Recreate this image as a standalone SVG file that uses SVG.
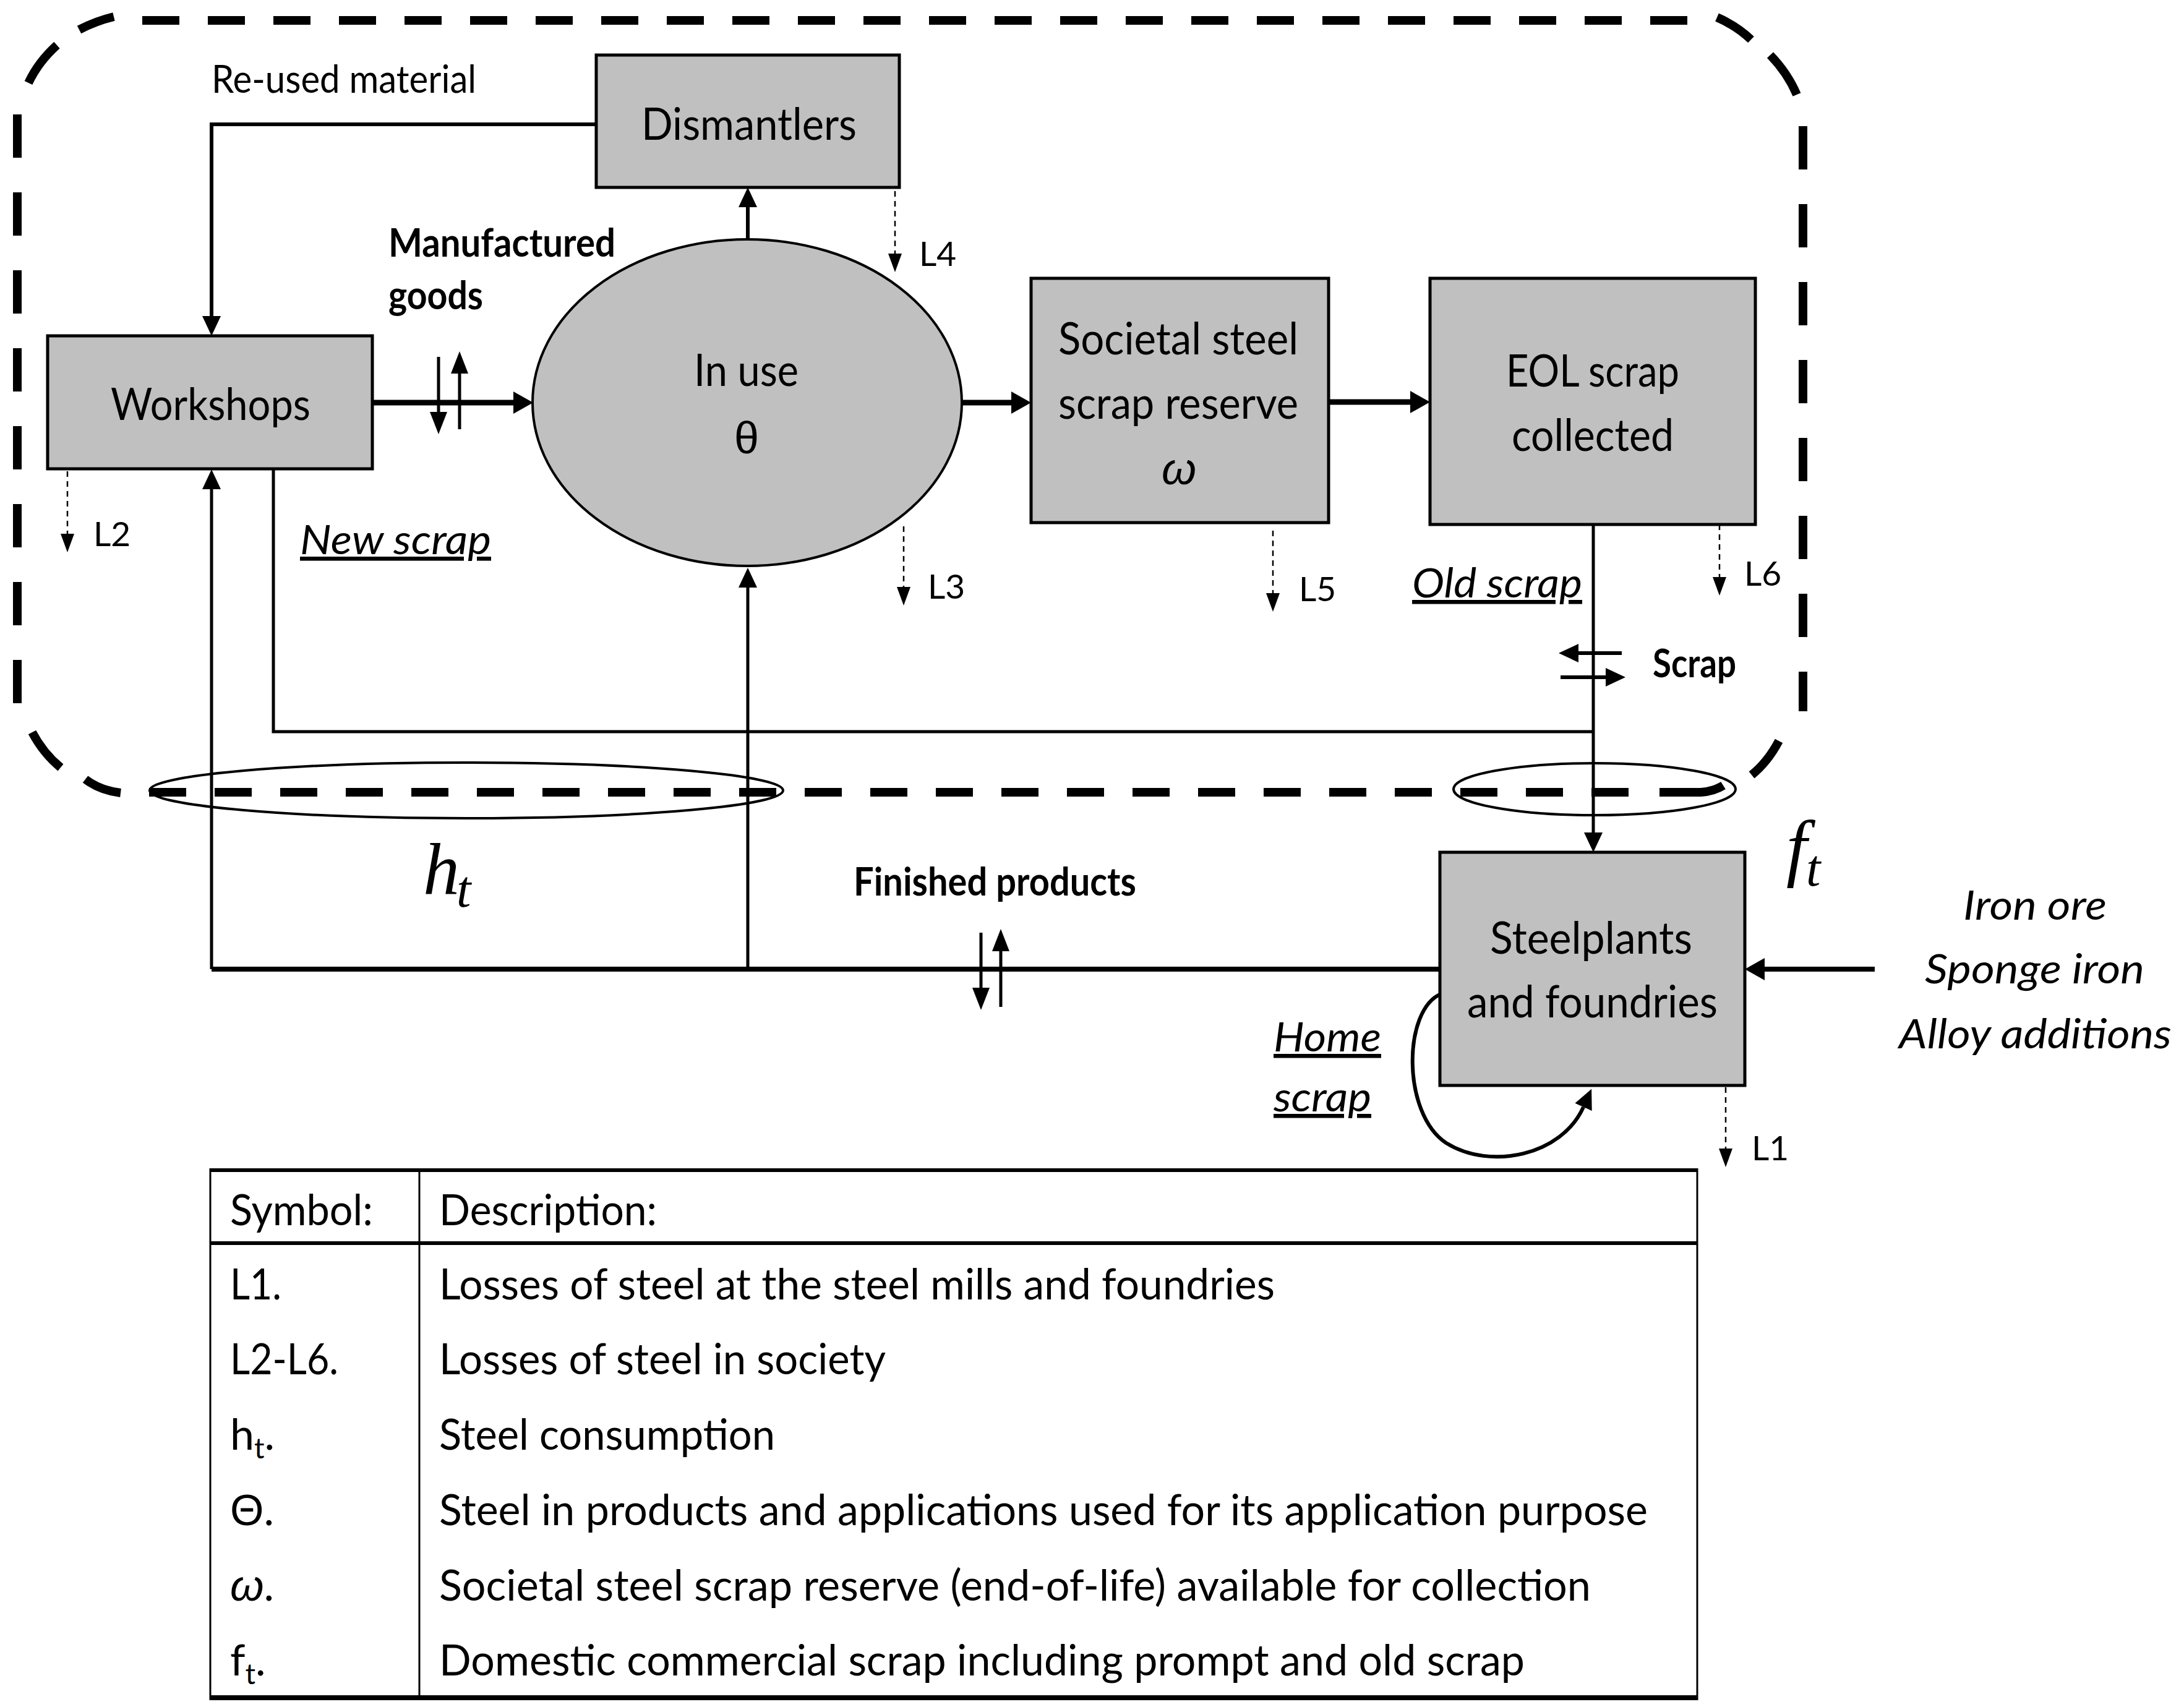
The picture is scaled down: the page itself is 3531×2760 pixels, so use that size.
<svg xmlns="http://www.w3.org/2000/svg" width="3531" height="2760" viewBox="0 0 3531 2760">
<style>
  text { font-family: "Lato", "Liberation Sans", sans-serif; fill: #000; }
  .nt { font-size: 72px; }
  .lb { font-size: 62px; }
  .bd { font-size: 64px; font-weight: bold; }
  .it { font-size: 66px; font-style: italic; }
  .ul { text-decoration: underline; }
  .ll { font-size: 55px; }
  .tb { font-size: 70px; }
  .math { font-family: "Liberation Serif", "DejaVu Serif", serif; font-style: italic; }
  .greek { font-family: "Liberation Sans", "DejaVu Sans", sans-serif; }
  .box { fill: #c0c0c0; stroke: #000; stroke-width: 5; }
  .ln { fill: none; stroke: #000; }
  .loss { fill: none; stroke: #000; stroke-width: 2.5; stroke-dasharray: 9 7; }
  .brd { fill: none; stroke: #000; stroke-width: 14; }
  .tl { stroke: #000; fill: none; }
</style>
<defs>
  <marker id="ah9" markerUnits="userSpaceOnUse" viewBox="0 -18 32 36" refX="0" refY="0" markerWidth="32" markerHeight="36" orient="auto"><path d="M0,-18 L32,0 L0,18 Z" fill="#000"/></marker>
  <marker id="ah6" markerUnits="userSpaceOnUse" viewBox="0 -15 32 30" refX="0" refY="0" markerWidth="32" markerHeight="30" orient="auto"><path d="M0,-15 L32,0 L0,15 Z" fill="#000"/></marker>
  <marker id="ah5" markerUnits="userSpaceOnUse" viewBox="0 -14 36 28" refX="0" refY="0" markerWidth="36" markerHeight="28" orient="auto"><path d="M0,-14 L36,0 L0,14 Z" fill="#000"/></marker>
  <marker id="ahl" markerUnits="userSpaceOnUse" viewBox="0 -11 30 22" refX="0" refY="0" markerWidth="30" markerHeight="22" orient="auto"><path d="M0,-11 L30,0 L0,11 Z" fill="#000"/></marker>
</defs>
<rect x="0" y="0" width="3531" height="2760" fill="#fff"/>

<!-- system boundary (dashed rounded rectangle) -->
<g id="boundary">
  <path class="brd" d="M230,33 H2728" stroke-dasharray="60 46"/>
  <path class="brd" d="M241,1281 H2660" stroke-dasharray="60 46"/>
  <path class="brd" d="M28,185 V1140" stroke-dasharray="70 56"/>
  <path class="brd" d="M2915,204 V1150" stroke-dasharray="70 56"/>
  <path class="brd" d="M46,134 Q62,100 92,73"/>
  <path class="brd" d="M128,48 Q155,34 184,27"/>
  <path class="brd" d="M2776,28 Q2808,42 2831,64"/>
  <path class="brd" d="M2862,89 Q2890,118 2905,153"/>
  <path class="brd" d="M2876,1198 Q2858,1232 2832,1253"/>
  <path class="brd" d="M2683,1281 H2750 Q2772,1279 2786,1270"/>
  <path class="brd" d="M52,1184 Q70,1218 98,1241"/>
  <path class="brd" d="M138,1260 Q162,1278 195,1282"/>
</g>

<!-- ht and ft ellipses -->
<g id="ht-ellipse"><ellipse cx="754" cy="1278" rx="512" ry="45" fill="none" stroke="#000" stroke-width="4"/></g>
<g id="ft-ellipse"><ellipse cx="2578" cy="1276" rx="228" ry="42" fill="none" stroke="#000" stroke-width="4"/></g>

<!-- connectors -->
<g id="connectors">
  <path class="ln" stroke-width="6" d="M964,201 H342 V511" marker-end="url(#ah6)"/>
  <path class="ln" stroke-width="6" d="M1209,387 V335" marker-end="url(#ah6)"/>
  <path class="ln" stroke-width="9" d="M602,651 H830" marker-end="url(#ah9)"/>
  <path class="ln" stroke-width="5" d="M709,577 V666" marker-end="url(#ah5)"/>
  <path class="ln" stroke-width="5" d="M743,694 V604" marker-end="url(#ah5)"/>
  <path class="ln" stroke-width="9" d="M1556,651 H1635" marker-end="url(#ah9)"/>
  <path class="ln" stroke-width="9" d="M2148,650 H2280" marker-end="url(#ah9)"/>
  <path class="ln" stroke-width="5" d="M442,758 V1183 H2576"/>
  <path class="ln" stroke-width="5" d="M2576,848 V1346" marker-end="url(#ah6)"/>
  <path class="ln" stroke-width="6" d="M2622,1056 H2552" marker-end="url(#ah6)"/>
  <path class="ln" stroke-width="6" d="M2523,1095 H2596" marker-end="url(#ah6)"/>
  <path class="ln" stroke-width="8" d="M2328,1567 H342"/>
  <path class="ln" stroke-width="5" d="M342,1567 V791" marker-end="url(#ah6)"/>
  <path class="ln" stroke-width="5" d="M1209,1567 V950" marker-end="url(#ah6)"/>
  <path class="ln" stroke-width="5" d="M1586,1508 V1597" marker-end="url(#ah5)"/>
  <path class="ln" stroke-width="5" d="M1618,1628 V1538" marker-end="url(#ah5)"/>
  <path class="ln" stroke-width="8" d="M3031,1567 H2853" marker-end="url(#ah9)"/>
  <path class="ln" stroke-width="6" d="M2330,1607 C2268,1632 2266,1800 2338,1848 C2410,1893 2525,1868 2560,1790" marker-end="url(#ah6)"/>
  <path class="loss" d="M109,762 V863" marker-end="url(#ahl)"/>
  <path class="loss" d="M1461,851 V949" marker-end="url(#ahl)"/>
  <path class="loss" d="M1447,309 V410" marker-end="url(#ahl)"/>
  <path class="loss" d="M2058,858 V959" marker-end="url(#ahl)"/>
  <path class="loss" d="M2780,832 V933" marker-end="url(#ahl)"/>
  <path class="loss" d="M2790,1758 V1857" marker-end="url(#ahl)"/>
</g>

<!-- nodes -->
<g id="dismantlers">
  <rect class="box" x="964" y="89" width="490" height="214"/>
  <text class="nt" x="1037" y="226" textLength="348" lengthAdjust="spacingAndGlyphs">Dismantlers</text>
</g>
<g id="workshops">
  <rect class="box" x="77" y="543" width="525" height="215"/>
  <text class="nt" x="179" y="679" textLength="323" lengthAdjust="spacingAndGlyphs">Workshops</text>
</g>
<g id="in-use">
  <ellipse cx="1208" cy="651" rx="347" ry="264" fill="#c0c0c0" stroke="#000" stroke-width="4"/>
  <text class="nt" x="1122" y="624" textLength="169" lengthAdjust="spacingAndGlyphs">In use</text>
  <text class="nt greek" x="1207" y="733" text-anchor="middle">θ</text>
</g>
<g id="societal">
  <rect class="box" x="1667" y="450" width="481" height="395"/>
  <text class="nt" x="1711" y="573" textLength="388" lengthAdjust="spacingAndGlyphs">Societal steel</text>
  <text class="nt" x="1711" y="677" textLength="388" lengthAdjust="spacingAndGlyphs">scrap reserve</text>
  <text class="nt greek" x="1906" y="783" text-anchor="middle" font-style="italic">ω</text>
</g>
<g id="eol">
  <rect class="box" x="2312" y="450" width="526" height="398"/>
  <text class="nt" x="2435" y="625" textLength="280" lengthAdjust="spacingAndGlyphs">EOL scrap</text>
  <text class="nt" x="2444" y="729" textLength="262" lengthAdjust="spacingAndGlyphs">collected</text>
</g>
<g id="steelplants">
  <rect class="box" x="2328" y="1378" width="493" height="377"/>
  <text class="nt" x="2409" y="1542" textLength="327" lengthAdjust="spacingAndGlyphs">Steelplants</text>
  <text class="nt" x="2372" y="1645" textLength="405" lengthAdjust="spacingAndGlyphs">and foundries</text>
</g>

<!-- labels -->
<g id="labels">
  <text class="lb" x="342" y="150" textLength="428" lengthAdjust="spacingAndGlyphs">Re-used material</text>
  <text class="bd" x="628" y="415" textLength="367" lengthAdjust="spacingAndGlyphs">Manufactured</text>
  <text class="bd" x="628" y="500" textLength="153" lengthAdjust="spacingAndGlyphs">goods</text>
  <text class="it ul" x="485" y="896" textLength="309" lengthAdjust="spacingAndGlyphs">New scrap</text>
  <text class="it ul" x="2283" y="966" textLength="275" lengthAdjust="spacingAndGlyphs">Old scrap</text>
  <text class="bd" x="2672" y="1095" textLength="135" lengthAdjust="spacingAndGlyphs">Scrap</text>
  <text class="bd" x="1380" y="1448" textLength="457" lengthAdjust="spacingAndGlyphs">Finished products</text>
  <text class="it ul" x="2059" y="1700" textLength="174" lengthAdjust="spacingAndGlyphs">Home</text>
  <text class="it ul" x="2059" y="1797" textLength="158" lengthAdjust="spacingAndGlyphs">scrap</text>
  <text class="it" font-size="70" x="3174" y="1487" textLength="232" lengthAdjust="spacingAndGlyphs">Iron ore</text>
  <text class="it" font-size="70" x="3112" y="1590" textLength="355" lengthAdjust="spacingAndGlyphs">Sponge iron</text>
  <text class="it" font-size="70" x="3070" y="1695" textLength="441" lengthAdjust="spacingAndGlyphs">Alloy additions</text>
  <text class="ll" x="151" y="883">L2</text>
  <text class="ll" x="1500" y="968">L3</text>
  <text class="ll" x="1486" y="430">L4</text>
  <text class="ll" x="2100" y="972">L5</text>
  <text class="ll" x="2820" y="947">L6</text>
  <text class="ll" x="2832" y="1876">L1</text>
  <text class="math" font-size="118" x="684" y="1445">h</text>
  <text class="math" font-size="84" x="738" y="1466">t</text>
  <text class="math" font-size="120" x="2888" y="1410">f</text>
  <text class="math" font-size="84" x="2920" y="1432">t</text>
</g>

<!-- legend table -->
<g id="legend">
  <line class="tl" x1="340" y1="1892" x2="2744" y2="1892" stroke-width="6"/>
  <line class="tl" x1="340" y1="2010" x2="2744" y2="2010" stroke-width="6"/>
  <line class="tl" x1="340" y1="2745" x2="2744" y2="2745" stroke-width="8"/>
  <line class="tl" x1="340" y1="1889" x2="340" y2="2749" stroke-width="3"/>
  <line class="tl" x1="2744" y1="1889" x2="2744" y2="2749" stroke-width="3"/>
  <line class="tl" x1="678" y1="1892" x2="678" y2="2745" stroke-width="3"/>
  <text class="tb" x="372" y="1981" textLength="231" lengthAdjust="spacingAndGlyphs">Symbol:</text>
  <text class="tb" x="710" y="1981" textLength="352" lengthAdjust="spacingAndGlyphs">Description:</text>
  <text class="tb" x="372" y="2101" textLength="83" lengthAdjust="spacingAndGlyphs">L1.</text>
  <text class="tb" x="710" y="2101" textLength="1351" lengthAdjust="spacingAndGlyphs">Losses of steel at the steel mills and foundries</text>
  <text class="tb" x="372" y="2222" textLength="175" lengthAdjust="spacingAndGlyphs">L2-L6.</text>
  <text class="tb" x="710" y="2222" textLength="722" lengthAdjust="spacingAndGlyphs">Losses of steel in society</text>
  <text class="tb" x="372" y="2344">h<tspan font-size="46" dy="14">t</tspan><tspan dy="-14">.</tspan></text>
  <text class="tb" x="710" y="2344" textLength="543" lengthAdjust="spacingAndGlyphs">Steel consumption</text>
  <text class="tb" x="372" y="2466"><tspan class="greek">Θ</tspan>.</text>
  <text class="tb" x="710" y="2466" textLength="1954" lengthAdjust="spacingAndGlyphs">Steel in products and applications used for its application purpose</text>
  <text class="tb" x="372" y="2588"><tspan class="greek" font-style="italic">ω</tspan>.</text>
  <text class="tb" x="710" y="2588" textLength="1862" lengthAdjust="spacingAndGlyphs">Societal steel scrap reserve (end-of-life) available for collection</text>
  <text class="tb" x="372" y="2709">f<tspan font-size="46" dy="14">t</tspan><tspan dy="-14">.</tspan></text>
  <text class="tb" x="710" y="2709" textLength="1755" lengthAdjust="spacingAndGlyphs">Domestic commercial scrap including prompt and old scrap</text>
</g>
</svg>
